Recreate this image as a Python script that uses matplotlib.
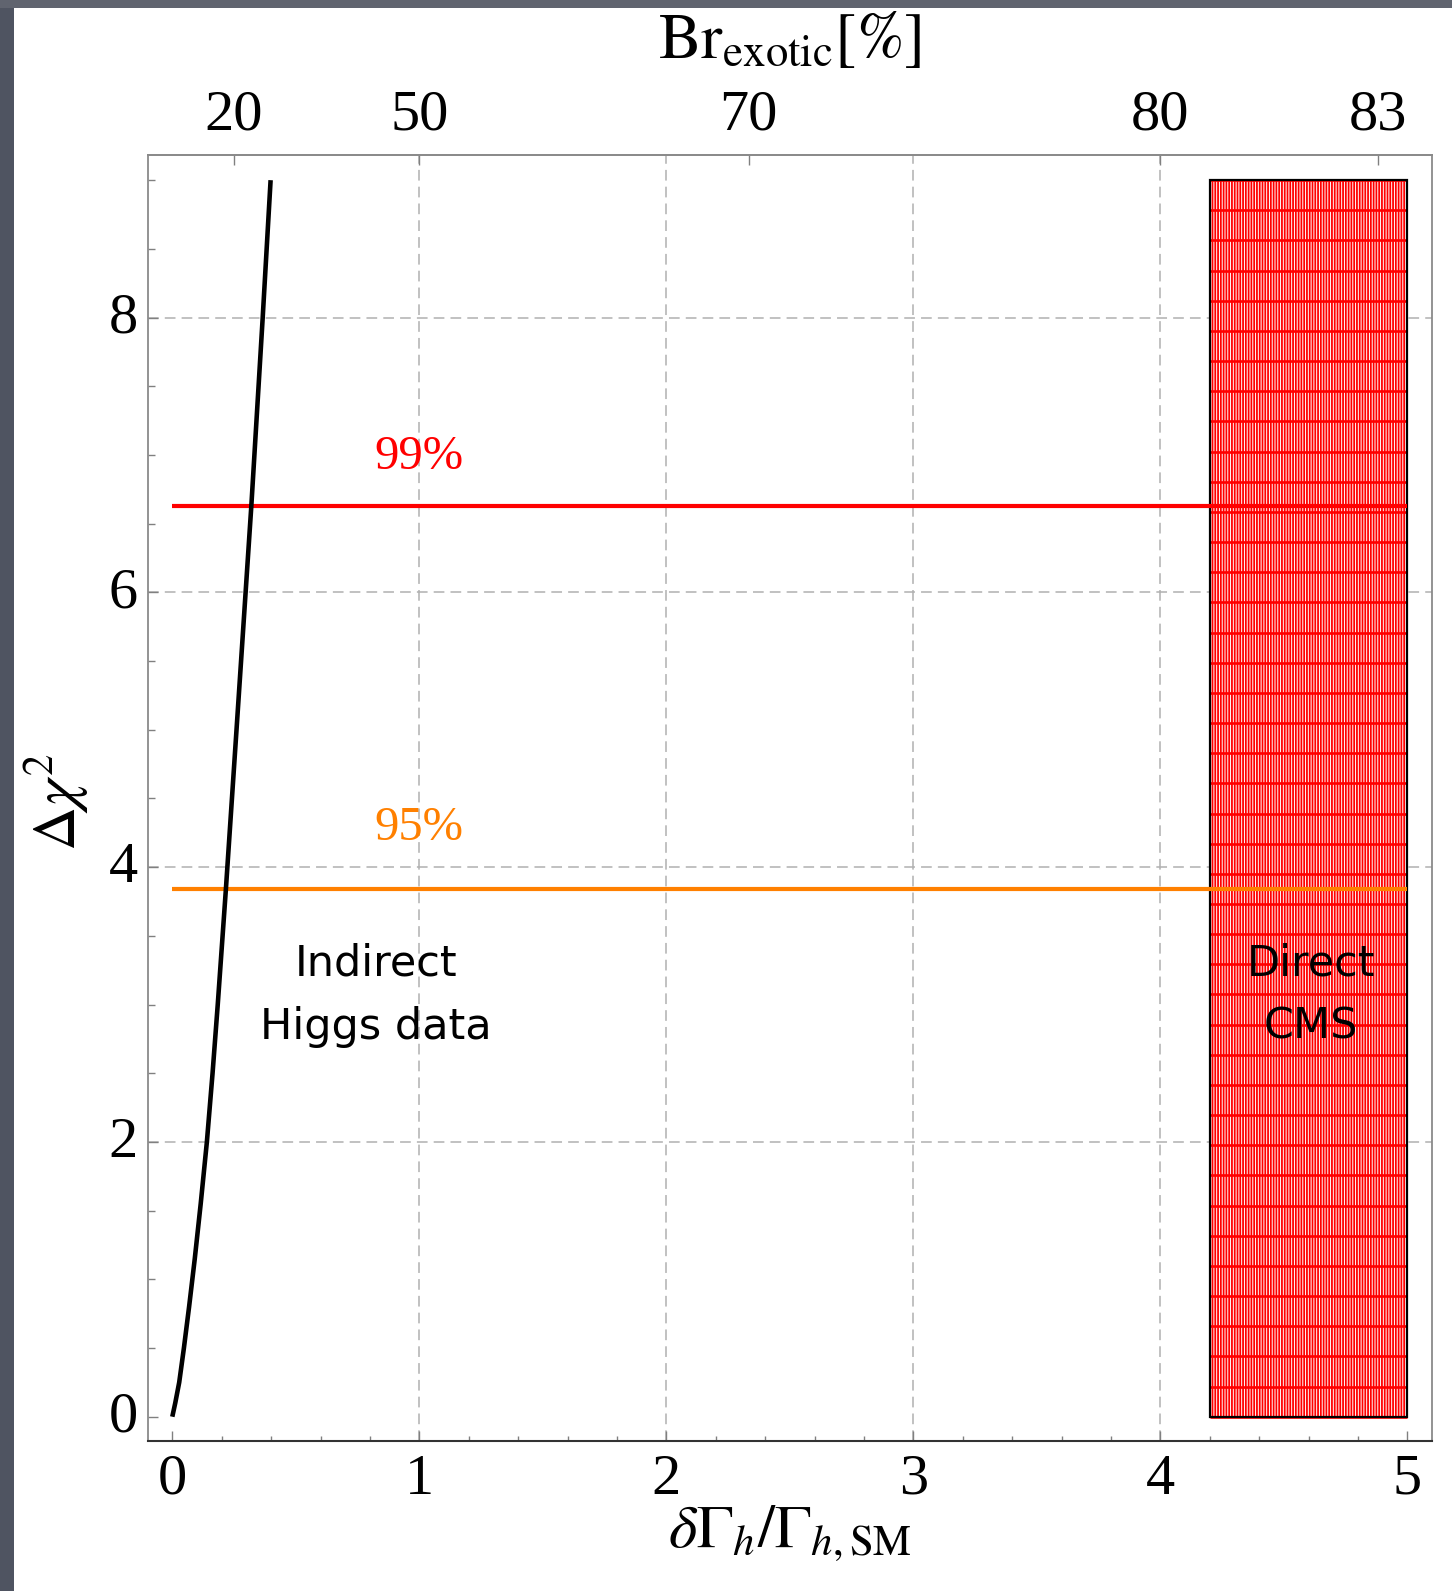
import numpy as np
import matplotlib
matplotlib.use('Agg')
import matplotlib.pyplot as plt
from matplotlib.patches import Rectangle
from matplotlib.ticker import MultipleLocator
from matplotlib.transforms import ScaledTranslation

# ---------------- data ----------------
chi2_x = [0.0, 0.012, 0.028, 0.047, 0.068, 0.091, 0.115, 0.140, 0.163, 0.184,
          0.217, 0.260, 0.320, 0.366, 0.398]
chi2_y = [0.0, 0.10, 0.25, 0.50, 0.80, 1.15, 1.55, 2.00, 2.50, 3.00,
          3.84, 5.00, 6.63, 8.00, 9.00]

cl_levels = [3.84, 6.63]
cl_labels = ['95%', '99%']
cl_colors = ['#ff8000', '#ff0000']
cl_label_x = [1.0, 1.0]
cl_label_y = [4.2, 6.9]
cl_xrange = [0.0, 5.0]

cms_x = [4.2, 5.0]
cms_y = [0.0, 9.0]

br_ticks = [20, 50, 70, 80, 83]
x_ticks = [0, 1, 2, 3, 4, 5]
y_ticks = [0, 2, 4, 6, 8]
x_grid = [1, 2, 3, 4]
y_grid = [2, 4, 6, 8]

# ---------------- style ----------------
plt.rcParams['font.family'] = ['Liberation Serif', 'DejaVu Serif']
plt.rcParams['mathtext.fontset'] = 'stix'
plt.rcParams['hatch.linewidth'] = 1.3
plt.rcParams['hatch.color'] = '#ff0000'

W, H = 1452, 1591
fig = plt.figure(figsize=(W / 100, H / 100), dpi=100)
fig.patch.set_facecolor('white')
# slide background strips
fig.patches.append(Rectangle((0, 0), 14 / W, 1, transform=fig.transFigure,
                             facecolor='#4f5461', edgecolor='none', zorder=-10))
fig.patches.append(Rectangle((0, 1 - 8 / H), 1, 8 / H, transform=fig.transFigure,
                             facecolor='#60646f', edgecolor='none', zorder=-10))

ax = fig.add_axes([0.10165, 0.0940, 0.8846, 0.8083])
ax.set_xlim(-0.1, 5.1)
ax.set_ylim(-0.18, 9.18)

# grid
for gx in x_grid:
    ax.axvline(gx, color='#b0b0b0', lw=1.1, dashes=(7, 4), zorder=0)
for gy in y_grid:
    ax.axhline(gy, color='#b0b0b0', lw=1.1, dashes=(7, 4), zorder=0)

# Direct CMS hatched region
ax.add_patch(Rectangle((cms_x[0], cms_y[0]), cms_x[1] - cms_x[0], cms_y[1] - cms_y[0],
                       facecolor='white', edgecolor='#ff0000', linewidth=0,
                       hatch='||||||', zorder=1))
ax.hlines(np.linspace(cms_y[0], cms_y[1], 42), cms_x[0], cms_x[1],
          color='#ff0000', lw=1.9, zorder=2)
ax.add_patch(Rectangle((cms_x[0], cms_y[0]), cms_x[1] - cms_x[0], cms_y[1] - cms_y[0],
                       fill=False, edgecolor='black', linewidth=1.6, zorder=3))

# confidence-level lines
for lvl, lab, col, lx, ly in zip(cl_levels, cl_labels, cl_colors, cl_label_x, cl_label_y):
    ax.hlines(lvl, cl_xrange[0], cl_xrange[1], color=col, lw=3.0, zorder=4)
    ax.text(lx, ly, lab, color=col, fontsize=35, ha='center', va='baseline', zorder=6)

# chi2 curve
ax.plot(chi2_x, chi2_y, color='black', lw=3.3, zorder=5,
        solid_capstyle='butt', solid_joinstyle='round')

# region labels
ax.text(0.825, 3.07, 'Indirect\nHiggs data', fontsize=31, ha='center', va='center',
        family='DejaVu Sans', linespacing=1.65, zorder=6)
ax.text(4.61, 3.07, 'Direct\nCMS', fontsize=31, ha='center', va='center',
        family='DejaVu Sans', linespacing=1.65, zorder=6)

# ticks
ax.set_xticks(x_ticks)
ax.set_yticks(y_ticks)
ax.xaxis.set_minor_locator(MultipleLocator(0.2))
ax.yaxis.set_minor_locator(MultipleLocator(0.5))
ax.tick_params(which='both', direction='in', top=False, right=False, color='#808080')
ax.tick_params(which='major', length=7.2, width=1.0, labelsize=42)
ax.tick_params(axis='x', which='major', pad=9)
ax.tick_params(axis='y', which='major', pad=7)
ax.tick_params(axis='x', which='minor', length=3.8, width=1.0)
ax.tick_params(axis='y', which='minor', length=5.0, width=1.0)
for lab in ax.get_yticklabels():
    lab.set_transform(lab.get_transform() + ScaledTranslation(0, 0.05, fig.dpi_scale_trans))

for side in ['left', 'top', 'right']:
    ax.spines[side].set_color('#8a8a8a')
    ax.spines[side].set_linewidth(1.3)
ax.spines['bottom'].set_color('#333333')
ax.spines['bottom'].set_linewidth(1.5)

# top Br axis
with np.errstate(divide='ignore', invalid='ignore'):
    secax = ax.secondary_xaxis('top', functions=(lambda x: 100 * x / (1 + x),
                                                 lambda b: b / (100 - b)))
secax.set_xticks(br_ticks)
secax.set_xticklabels([str(b) for b in br_ticks])
secax.tick_params(direction='in', length=7.2, width=1.0, color='#808080',
                  labelsize=42, pad=10)
secax.spines['top'].set_color('#8a8a8a')
secax.spines['top'].set_linewidth(1.3)

# axis labels
ax.set_xlabel(r'$\delta\Gamma_h/\Gamma_{h,\mathrm{SM}}$', fontsize=44)
ax.xaxis.set_label_coords(0.5, -0.048)
ax.set_ylabel(r'$\Delta\chi^2$', fontsize=44, va='center')
ax.yaxis.set_label_coords(-0.071, 0.497)
fig.text(0.5437, 1 - 58 / H, r'$\mathrm{Br}_{\mathrm{exotic}}[\%]$', fontsize=46,
         ha='center', va='baseline')

fig.savefig('out.png', dpi=100)
